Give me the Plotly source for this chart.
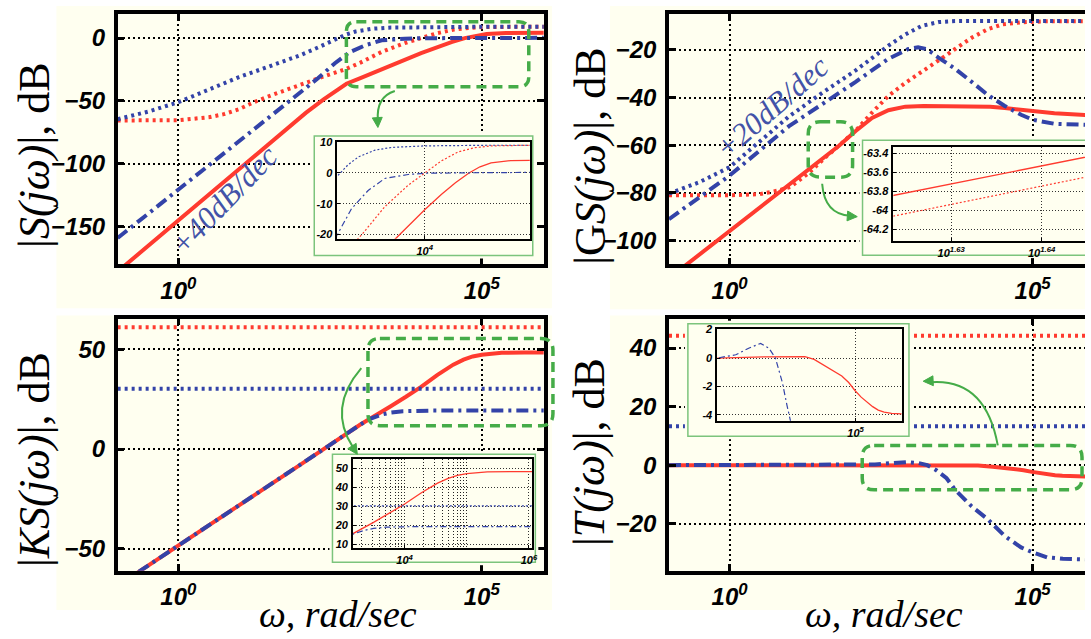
import numpy as np
import plotly.graph_objects as go

W, H = 1091, 639

CREAM = "#FFFFF0"
RED = "#FF3B2F"
BLUE = "#3343A8"
GREEN = "#45AC48"
LIGHTGREEN = "#7CC47C"
TXTBLUE = "#4353A8"

# ---- data: log10(omega) and magnitude in dB ----
# |S(jw)|
s_solid_lw = [-1.0, 0.0, 1.0, 1.8, 2.1, 2.4, 2.6, 2.77, 3.0, 3.18, 3.52, 4.0, 4.27, 4.5, 4.72, 4.9, 5.08, 5.4, 6.05]
s_solid_db = [-185.7, -144.9, -104.1, -71.5, -59.5, -48.5, -41.5, -36.3, -31.8, -28.4, -21.5, -12.0, -7.0, -3.2, 0.0, 2.0, 3.3, 4.0, 4.2]
s_rdot_lw = [-1.0, 0.0, 0.5, 0.75, 1.0, 1.27, 1.55, 1.82, 2.1, 2.36, 2.77, 3.0, 3.35, 3.73, 4.0, 4.27, 4.54, 4.81, 5.08, 5.5, 6.05]
s_rdot_db = [-65.5, -65.3, -63.0, -60.5, -56.5, -50.5, -45.2, -40.3, -35.5, -31.1, -24.5, -19.5, -11.0, -4.0, 0.0, 3.9, 6.8, 8.2, 8.8, 9.0, 9.1]
s_bdot_lw = [-1.0, -0.5, 0.0, 0.5, 1.0, 1.5, 2.0, 2.3, 2.58, 2.75, 2.92, 3.19, 3.46, 4.0, 5.0, 6.05]
s_bdot_db = [-64.5, -58.5, -51.0, -41.0, -31.0, -22.5, -13.8, -7.5, -1.0, 2.6, 5.2, 7.4, 8.3, 8.8, 9.0, 9.0]
s_bdd_lw = [-1.0, 0.0, 1.0, 2.0, 2.3, 2.58, 2.81, 3.08, 3.35, 3.73, 4.0, 5.0, 6.05]
s_bdd_db = [-159.0, -120.6, -82.5, -44.0, -32.0, -20.0, -11.6, -5.7, -1.8, -0.5, -0.1, 0.1, 0.2]

# |GS(jw)|
gs_solid_lw = [-1.0, 0.0, 0.5, 1.0, 1.31, 1.62, 1.65, 1.8, 2.08, 2.35, 2.62, 2.9, 3.2, 4.0, 4.3, 4.54, 5.0, 5.36, 5.9]
gs_solid_db = [-115.8, -95.9, -86.0, -76.1, -70.0, -63.91, -63.34, -60.3, -54.0, -48.5, -45.3, -43.8, -43.5, -43.5, -43.8, -44.4, -45.8, -46.6, -47.3]
gs_rdot_lw = [-1.0, 0.0, 0.5, 0.8, 1.0, 1.3, 1.62, 1.65, 1.9, 2.1, 2.35, 2.62, 2.9, 3.17, 3.5, 3.72, 4.0, 4.26, 4.5, 4.81, 5.2, 5.9]
gs_rdot_db = [-81.0, -81.0, -80.5, -79.0, -77.5, -71.8, -64.13, -63.55, -58.0, -53.3, -46.3, -39.3, -33.8, -29.3, -23.5, -19.6, -14.8, -11.3, -9.3, -8.4, -8.0, -7.9]
gs_bdot_lw = [-1.0, -0.5, 0.0, 0.5, 0.98, 1.5, 2.08, 2.62, 2.9, 3.17, 3.45, 3.72, 5.9]
gs_bdot_db = [-80.3, -75.5, -69.2, -58.5, -47.9, -38.5, -28.6, -18.2, -13.5, -9.9, -8.3, -7.9, -7.9]
gs_bdd_lw = [-1.0, 0.0, 0.98, 2.08, 2.62, 2.95, 3.11, 3.25, 3.44, 3.72, 4.0, 4.26, 4.54, 4.81, 5.0, 5.36, 5.9]
gs_bdd_db = [-91.0, -72.7, -52.0, -33.4, -23.7, -19.6, -18.9, -19.6, -23.1, -27.9, -33.5, -38.9, -43.5, -47.2, -49.3, -51.0, -51.4]

# |KS(jw)|
ks_solid_lw = [-1.0, 0.0, 1.0, 2.0, 3.0, 3.17, 3.5, 3.75, 4.0, 4.27, 4.53, 4.7, 4.85, 5.0, 5.33, 5.7, 6.1]
ks_solid_db = [-68.5, -48.5, -28.3, -8.0, 12.3, 15.6, 21.5, 26.2, 31.2, 37.2, 42.3, 44.8, 46.4, 47.3, 48.2, 48.4, 48.4]
ks_rdot_lw = [-1.0, 6.1]
ks_rdot_db = [61.0, 61.0]
ks_bdot_lw = [-1.0, 6.1]
ks_bdot_db = [30.2, 30.2]
ks_bdd_lw = [-1.0, 0.0, 1.0, 2.0, 3.0, 3.17, 3.35, 3.5, 3.7, 3.9, 4.2, 6.1]
ks_bdd_db = [-68.5, -48.5, -28.3, -8.0, 12.3, 15.3, 17.3, 18.3, 19.0, 19.2, 19.3, 19.3]

# |T(jw)|
t_solid_lw = [-1.0, 2.0, 3.0, 3.9, 4.1, 4.34, 4.5, 4.7, 4.85, 4.99, 5.12, 5.24, 5.37, 5.49, 5.62, 5.78, 6.0]
t_solid_db = [0.0, 0.0, 0.08, 0.1, -0.1, -0.57, -0.88, -1.26, -1.72, -2.3, -2.75, -3.08, -3.42, -3.66, -3.8, -3.89, -3.93]
t_rdot_lw = [-1.0, 6.1]
t_rdot_db = [44.2, 44.2]
t_bdot_lw = [-1.0, 6.1]
t_bdot_db = [13.3, 13.3]
t_bdd_lw = [-1.0, 2.0, 2.4, 2.68, 2.94, 3.12, 3.26, 3.41, 3.51, 3.58, 3.72, 3.99, 4.26, 4.54, 4.81, 5.0, 5.24, 5.5, 5.9]
t_bdd_db = [0.0, 0.0, 0.23, 0.69, 1.03, 0.69, 0.0, -1.71, -3.31, -4.46, -8.4, -14.0, -18.5, -24.2, -28.1, -29.8, -31.5, -32.0, -32.2]

panels = [
    [(s_solid_lw, s_solid_db), (s_rdot_lw, s_rdot_db), (s_bdot_lw, s_bdot_db), (s_bdd_lw, s_bdd_db)],
    [(gs_solid_lw, gs_solid_db), (gs_rdot_lw, gs_rdot_db), (gs_bdot_lw, gs_bdot_db), (gs_bdd_lw, gs_bdd_db)],
    [(ks_solid_lw, ks_solid_db), (ks_rdot_lw, ks_rdot_db), (ks_bdot_lw, ks_bdot_db), (ks_bdd_lw, ks_bdd_db)],
    [(t_solid_lw, t_solid_db), (t_rdot_lw, t_rdot_db), (t_bdot_lw, t_bdot_db), (t_bdd_lw, t_bdd_db)],
]

y_ranges = [[-180, 19], [-110, -5], [-61, 65.3], [-36.1, 50]]
y_ticks = [[-150, -100, -50, 0], [-100, -80, -60, -40, -20], [-50, 0, 50], [-20, 0, 20, 40]]
y_titles = ["|<i>S(jω)</i>|, dB", "|G<i>S(jω)</i>|, dB", "|<i>KS(jω)</i>|, dB", "|<i>T(jω)</i>|, dB"]

# insets: x range (log10), y range, ticks
in_xr = [[2.58, 5.71], [1.6236, 1.6448], [3.17, 6.05], [2.0, 6.0]]
in_yr = [[-21.4, 10.2], [-64.32, -63.33], [7.9, 54.9], [-4.41, 2.07]]
in_xt = [[1e4], [10 ** 1.63, 10 ** 1.64], [1e4, 1e6], [1e5]]
in_xtt = [["10<sup>4</sup>"], ["10<sup>1.63</sup>", "10<sup>1.64</sup>"],
          ["10<sup>4</sup>", "10<sup>6</sup>"], ["10<sup>5</sup>"]]
ks_minor = [2e3, 3e3, 4e3, 5e3, 6e3, 7e3, 8e3, 9e3, 2e4, 3e4, 4e4, 5e4, 6e4, 7e4, 8e4, 9e4, 1e5]
in_yt = [[-20, -10, 0, 10], [-64.2, -64, -63.8, -63.6, -63.4], [10, 20, 30, 40, 50], [-4, -2, 0, 2]]
in_ytt = [["-20", "-10", "0", "10"], ["-64.2", "-64", "-63.8", "-63.6", "-63.4"],
          ["10", "20", "30", "40", "50"], ["-4", "-2", "0", "2"]]


def px(x):
    return x / W


def py(y):
    return 1 - y / H


def P(x, y):
    return f"{px(x):.5f},{py(y):.5f}"


LX = [px(118.3), px(546.7)]
RX = [px(672.7), 1.0]
TY = [py(261.7), py(8.3)]
BY = [py(572.0), py(316.7)]
doms = [(LX, TY), (RX, TY), (LX, BY), (RX, BY)]
x_ranges = [[-1, 6.02], [-1, 5.864], [-1, 6.02], [-1, 5.864]]

# inset inner plot boxes (px: left, top, right, bottom) and green frames
in_box = [(339.3, 137.3, 532.7, 235.7), (898.3, 142.7, 1091, 237.7),
          (355, 459, 535, 549), (721.3, 326.7, 906.7, 420)]
in_frame = [(316, 131.7, 535.7, 252.7), (867.3, 136, 1100, 252.3),
            (334.3, 454, 538.3, 563.3), (691.7, 321.7, 914, 435.7)]

TF = dict(family="Liberation Sans", size=24, color="black", weight="bold", style="italic")
TFS = dict(family="Liberation Sans", size=11, color="black", weight="bold", style="italic")

main_styles = [dict(color=RED, width=4), dict(color=RED, width=4, dash="3px,4px"),
               dict(color=BLUE, width=4, dash="3px,4px"), dict(color=BLUE, width=4, dash="12px,5px,3px,5px")]
inset_styles = [dict(color=RED, width=1.3), dict(color=RED, width=1.2, dash="2px,2px"),
                dict(color=BLUE, width=1.2, dash="2px,2px"), dict(color=BLUE, width=1.2, dash="6px,3px,2px,3px")]

fig = go.Figure()
layout = {}
shapes = []


def ax_name(kind, n):
    return kind + ("" if n == 1 else str(n))


def ref(kind, n):
    return kind[0] + ("" if n == 1 else str(n))


# main panels
for i in range(4):
    n = i + 1
    right = i in (1, 3)
    for (lw, db), st in zip(panels[i], main_styles):
        fig.add_trace(go.Scatter(x=np.power(10.0, lw), y=db, mode="lines", line=st,
                                 xaxis=ref("x", n), yaxis=ref("y", n), showlegend=False))
    common = dict(showgrid=True, gridcolor="black", griddash="2px,3px", gridwidth=1.6,
                  showline=True, linecolor="black", linewidth=3.5, ticks="inside", ticklen=7,
                  tickwidth=3, tickcolor="black", tickfont=TF, zeroline=False)
    layout[ax_name("xaxis", n)] = dict(common, type="log", domain=doms[i][0], range=x_ranges[i],
                                       anchor=ref("y", n), tickvals=[1, 1e5],
                                       ticktext=["10<sup>0</sup>", "10<sup>5</sup>"],
                                       mirror="ticks", ticklabelstandoff=2)
    layout[ax_name("yaxis", n)] = dict(common, domain=doms[i][1], range=y_ranges[i],
                                       anchor=ref("x", n), tickvals=y_ticks[i],
                                       mirror=False if right else "ticks", ticklabelstandoff=4)

# opaque frames behind insets (subplots 5-8), drawn above the main panels
for i in range(4):
    n = i + 5
    x0, y0, x1, y1 = in_frame[i]
    e = 3
    dx0, dx1 = x0 - e, min(x1 + e, W)
    dyt, dyb = y0 - e, y1 + e
    w, h = x1 - x0, y1 - y0
    layout[ax_name("xaxis", n)] = dict(domain=[px(dx0), px(dx1)], range=[(dx0 - x0) / w, (dx1 - x0) / w],
                                       visible=False, anchor=ref("y", n))
    layout[ax_name("yaxis", n)] = dict(domain=[py(dyb), py(dyt)], range=[(y1 - dyb) / h, (y1 - dyt) / h],
                                       visible=False, anchor=ref("x", n))
    fig.add_trace(go.Scatter(x=[None], y=[None], xaxis=ref("x", n), yaxis=ref("y", n),
                             showlegend=False, hoverinfo="skip"))
    shapes.append(dict(type="rect", xref=ref("x", n), yref=ref("y", n), x0=0, x1=1, y0=0, y1=1,
                       fillcolor=CREAM, line=dict(color=LIGHTGREEN, width=1.5), layer="below"))

# insets (subplots 9-12)
for i in range(4):
    n = i + 9
    for (lw, db), st in zip(panels[i], inset_styles):
        fig.add_trace(go.Scatter(x=np.power(10.0, lw), y=db, mode="lines", line=st,
                                 xaxis=ref("x", n), yaxis=ref("y", n), showlegend=False))
    bx0, by0, bx1, by1 = in_box[i]
    common = dict(showgrid=True, gridcolor="#333333", griddash="1px,2px", gridwidth=1,
                  showline=True, linecolor="black", linewidth=1.8, ticks="inside", ticklen=3,
                  tickwidth=1, tickcolor="black", tickfont=TFS, zeroline=False)
    xa = dict(common, type="log", domain=[px(bx0), px(bx1)], range=in_xr[i],
              anchor=ref("y", n), tickvals=in_xt[i], ticktext=in_xtt[i],
              mirror=True, ticklabelstandoff=1)
    if i == 2:
        xa["minor"] = dict(tickvals=ks_minor, showgrid=True, gridcolor="#222222",
                           griddash="1px,2px", gridwidth=1, ticks="")
    layout[ax_name("xaxis", n)] = xa
    layout[ax_name("yaxis", n)] = dict(common, domain=[py(by1), py(by0)], range=in_yr[i],
                                       anchor=ref("x", n), tickvals=in_yt[i], ticktext=in_ytt[i],
                                       mirror=(i != 1), ticklabelstandoff=1)

# cream panel backgrounds
for (x0, y0, x1, y1) in [(56.7, 0, 555, 306), (613.3, 0, 1091, 307),
                         (56.7, 313.3, 555, 611.7), (613.3, 313.3, 1091, 611.7)]:
    shapes.append(dict(type="rect", xref="paper", yref="paper", x0=px(x0), x1=px(x1),
                       y0=py(y1), y1=py(y0), fillcolor=CREAM, line=dict(width=0), layer="below"))


def rounded_box(x0, y0, x1, y1, r):
    return ("M " + P(x0 + r, y0) + " L " + P(x1 - r, y0) + " Q " + P(x1, y0) + " " + P(x1, y0 + r) +
            " L " + P(x1, y1 - r) + " Q " + P(x1, y1) + " " + P(x1 - r, y1) +
            " L " + P(x0 + r, y1) + " Q " + P(x0, y1) + " " + P(x0, y1 - r) +
            " L " + P(x0, y0 + r) + " Q " + P(x0, y0) + " " + P(x0 + r, y0) + " Z")


for (x0, y0, x1, y1, r) in [(348.3, 16, 531.7, 81.7, 10), (812.7, 117.3, 857.3, 173.3, 12),
                            (370, 336.7, 556, 425, 12), (867, 445, 1088, 490, 12)]:
    shapes.append(dict(type="path", xref="paper", yref="paper", path=rounded_box(x0, y0, x1, y1, r),
                       line=dict(color=GREEN, width=3.5, dash="10px,6px"), layer="above"))


def curved_arrow(p0, c, p2, tip):
    d = np.array(tip) - np.array(c)
    d = d / np.hypot(*d)
    nrm = np.array([-d[1], d[0]])
    base = np.array(tip) - d * 10
    a = base + nrm * 5
    b = base - nrm * 5
    shapes.append(dict(type="path", xref="paper", yref="paper",
                       path="M " + P(*p0) + " Q " + P(*c) + " " + P(*p2),
                       line=dict(color=GREEN, width=2), layer="above"))
    shapes.append(dict(type="path", xref="paper", yref="paper",
                       path="M " + P(*tip) + " L " + P(*a) + " L " + P(*b) + " Z",
                       fillcolor=GREEN, line=dict(color=GREEN, width=1), layer="above"))


curved_arrow((397, 86), (378, 92), (380, 116), (380, 123))
curved_arrow((826.7, 180), (829, 211), (855, 212.5), (862, 213.3))
curved_arrow((363.3, 366.7), (329, 407), (355, 447), (359.3, 454))
curved_arrow((1003.3, 445), (991, 377), (936, 381), (928.3, 380))

annotations = []
for (txt, x, y) in zip(y_titles, [34, 593, 34, 593], [151, 152, 459, 452]):
    annotations.append(dict(text=txt, x=px(x), y=py(y), xref="paper", yref="paper", showarrow=False,
                            textangle=-90, xanchor="center", yanchor="middle",
                            font=dict(family="Liberation Serif", size=44, color="black")))
for x in [340, 889]:
    annotations.append(dict(text="<i>ω, rad/sec</i>", x=px(x), y=py(616), xref="paper", yref="paper",
                            showarrow=False, xanchor="center", yanchor="middle",
                            font=dict(family="Liberation Serif", size=38, color="black")))
for (txt, x, y, ang) in [("<i>+40dB/dec</i>", 225, 197, -46), ("<i>+20dB/dec</i>", 776, 103, -41)]:
    annotations.append(dict(text=txt, x=px(x), y=py(y), xref="paper", yref="paper", showarrow=False,
                            textangle=ang, xanchor="center", yanchor="middle",
                            font=dict(family="Liberation Serif", size=31, color=TXTBLUE)))

fig.update_layout(**layout)
fig.update_layout(width=W, height=H, margin=dict(l=0, r=0, t=0, b=0),
                  paper_bgcolor="white", plot_bgcolor=CREAM, showlegend=False,
                  shapes=shapes, annotations=annotations)

fig.write_html("out.html", config={"displayModeBar": False},
               post_script="document.body.style.margin='0px';")
